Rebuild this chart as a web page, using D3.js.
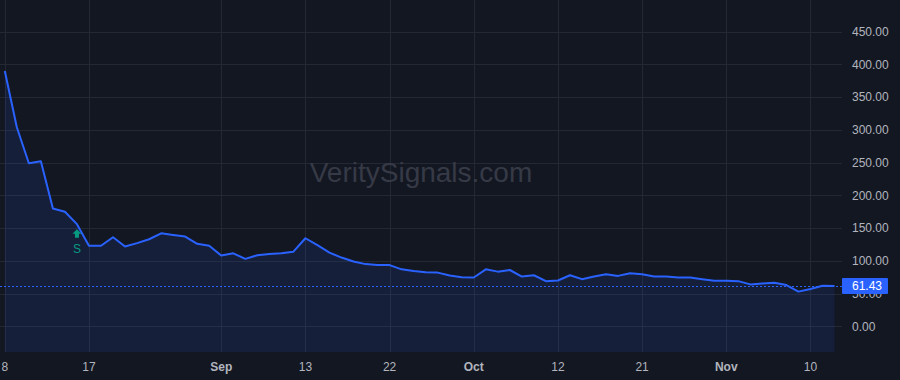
<!DOCTYPE html>
<html>
<head>
<meta charset="utf-8">
<script src="https://cdn.jsdelivr.net/npm/d3@7"></script>
<style>
  body { margin: 0; background: #131722; }
  svg { display: block; font-family: "Liberation Sans", Arial, sans-serif; }
</style>
</head>
<body>
<div id="chart"></div>
<script>
/* price series, one value per bar */
var values = [390, 304, 249, 252, 180, 175, 156, 123, 123, 136,
              122, 127, 133, 142, 139.5, 137, 126, 123, 108, 111.5,
              103, 108.5, 110.5, 111.5, 114, 134.5, 124, 112.5, 105, 99,
              95, 93.5, 93.5, 87, 84.5, 82.5, 82, 77.5, 75, 74.5,
              87, 83.5, 86, 76, 78, 69, 70, 78, 72, 76,
              79.5, 77, 81, 79.5, 76, 76, 74.5, 74.5, 72, 69.5,
              69.5, 69, 64, 65.5, 66.5, 63, 53, 57, 62, 61.43];
var lastValue = 61.43;

/* x tick labels, keyed by bar index */
var tickIndex = [0, 7, 18, 25, 32, 39, 46, 53, 60, 67];
var tickLabel = ["8", "17", "Sep", "13", "22", "Oct", "12", "21", "Nov", "10"];
var monthLabels = ["Sep", "Oct", "Nov"];

/* y ticks */
var yTicks = [0, 50, 100, 150, 200, 250, 300, 350, 400, 450];

/* signal marker */
var signalIndex = 6;
var signalText = "S";

var width = 900, height = 380;
var plotRight = 842, plotBottom = 352;

var svg = d3.select("#chart").append("svg")
  .attr("width", width)
  .attr("height", height);

svg.append("rect")
  .attr("width", width).attr("height", height)
  .attr("fill", "#131722");

var x = d3.scaleLinear()
  .domain([0, values.length - 1])
  .range([4.8, 4.8 + (values.length - 1) * 12.025]);

var y = d3.scaleLinear()
  .domain([0, 450])
  .range([326.3, 31.7]);

/* grid */
svg.append("g")
  .selectAll("line.h")
  .data(yTicks)
  .join("line")
    .attr("x1", 0).attr("x2", plotRight)
    .attr("y1", d => Math.round(y(d)) + 0.5)
    .attr("y2", d => Math.round(y(d)) + 0.5)
    .attr("stroke", "#242833");

svg.append("g")
  .selectAll("line.v")
  .data(tickIndex)
  .join("line")
    .attr("x1", d => Math.round(x(d)) + 0.5)
    .attr("x2", d => Math.round(x(d)) + 0.5)
    .attr("y1", 0).attr("y2", plotBottom)
    .attr("stroke", "#242833");

/* watermark */
svg.append("text")
  .attr("x", 421).attr("y", 181.5)
  .attr("text-anchor", "middle")
  .style("font-size", "28px")
  .style("fill", "#363a46")
  .text("VeritySignals.com");

/* area + line */
var area = d3.area()
  .x((d, i) => x(i))
  .y0(plotBottom)
  .y1(d => y(d));

var line = d3.line()
  .x((d, i) => x(i))
  .y(d => y(d));

svg.append("path")
  .datum(values)
  .attr("d", area)
  .attr("fill", "rgba(41, 98, 255, 0.11)");

svg.append("path")
  .datum(values)
  .attr("d", line)
  .attr("fill", "none")
  .attr("stroke", "#2962ff")
  .attr("stroke-width", 2)
  .attr("stroke-linejoin", "round");

/* last price dotted line */
svg.append("line")
  .attr("x1", 0).attr("x2", plotRight)
  .attr("y1", Math.round(y(lastValue)) + 0.5)
  .attr("y2", Math.round(y(lastValue)) + 0.5)
  .attr("stroke", "#2962ff")
  .attr("stroke-width", 1)
  .attr("stroke-dasharray", "2,2");

/* signal marker: arrow + letter under the point */
var sx = x(signalIndex), sy = y(values[signalIndex]);
svg.append("path")
  .attr("d", "M" + sx + "," + (sy + 5) +
             " l4.5,4.5 h-2.5 v4 h-4 v-4 h-2.5 z")
  .attr("fill", "#089981");
svg.append("text")
  .attr("x", sx).attr("y", sy + 29)
  .attr("text-anchor", "middle")
  .style("font-size", "12px")
  .style("fill", "#089981")
  .text(signalText);

/* right axis labels */
svg.append("g")
  .selectAll("text")
  .data(yTicks)
  .join("text")
    .attr("x", 852)
    .attr("y", d => y(d))
    .attr("dy", "0.35em")
    .style("font-size", "12px")
    .style("fill", "#b2b5be")
    .text(d => d3.format(".2f")(d));

/* last price label */
svg.append("rect")
  .attr("x", 842).attr("y", Math.round(y(lastValue)) - 8)
  .attr("width", 46).attr("height", 16)
  .attr("rx", 1)
  .attr("fill", "#2962ff");
svg.append("text")
  .attr("x", 852).attr("y", y(lastValue))
  .attr("dy", "0.35em")
  .style("font-size", "12px")
  .style("fill", "#ffffff")
  .text(d3.format(".2f")(lastValue));

/* bottom axis labels */
svg.append("g")
  .selectAll("text")
  .data(tickIndex)
  .join("text")
    .attr("x", d => x(d))
    .attr("y", 370.5)
    .attr("text-anchor", "middle")
    .style("font-size", "12px")
    .style("font-weight", (d, i) => monthLabels.indexOf(tickLabel[i]) >= 0 ? "bold" : "normal")
    .style("fill", "#b2b5be")
    .text((d, i) => tickLabel[i]);
</script>
</body>
</html>
